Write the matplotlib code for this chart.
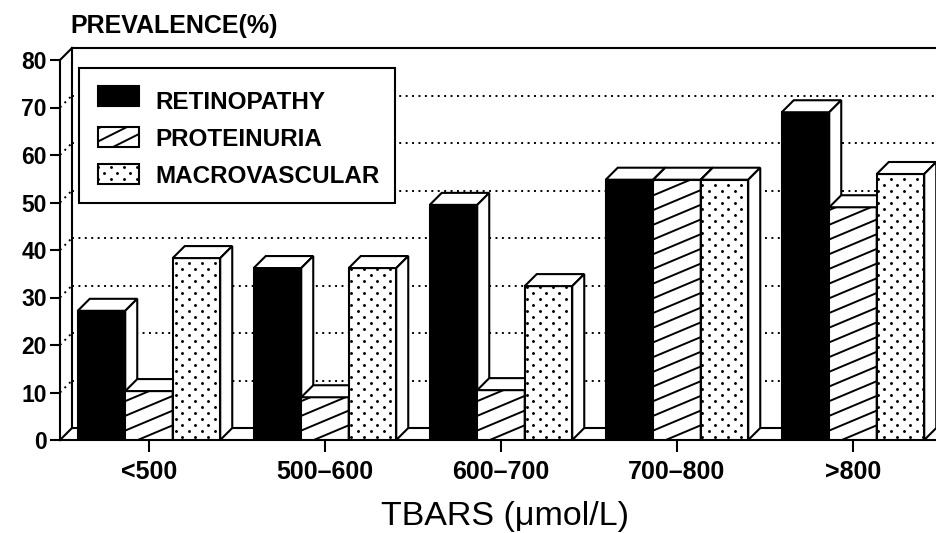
import numpy as np
import matplotlib
matplotlib.use("Agg")
import matplotlib.pyplot as plt
from matplotlib.patches import Rectangle, Polygon
from matplotlib.lines import Line2D
from matplotlib.transforms import IdentityTransform, Affine2D

# ---------------- data ----------------
categories = ["<500", "500–600", "600–700", "700–800", ">800"]
series_names = ["RETINOPATHY", "PROTEINURIA", "MACROVASCULAR"]
retinopathy = [27.2, 36.2, 49.5, 54.8, 69.0]
proteinuria = [10.3, 9.0, 10.5, 54.8, 49.0]
macrovascular = [38.3, 36.2, 32.4, 54.8, 56.0]
y_ticks = [0, 10, 20, 30, 40, 50, 60, 70, 80]
grid_values = [10, 20, 30, 40, 50, 60, 70]
x_label = "TBARS (μmol/L)"
y_label = "PREVALENCE(%)"

# ---------------- layout ----------------
W, H = 937, 533
plt.rcParams["font.family"] = ["Liberation Sans", "DejaVu Sans"]
fig = plt.figure(figsize=(W / 100, H / 100), dpi=100)
AX_L, AX_R, AX_T, AX_B = 60, 937, 60, 440
ax = fig.add_axes([AX_L / W, 1 - AX_B / H, (AX_R - AX_L) / W, (AX_B - AX_T) / H])

PX_X = 176.0          # pixels per category
X0_PX = 149.0         # pixel of first category centre
xmin = (AX_L - X0_PX) / PX_X
xmax = (AX_R - X0_PX) / PX_X
YMAX = 80
PX_Y = (AX_B - AX_T) / YMAX
DX = 12 / PX_X        # depth offset (data units)
DY = 12 / PX_Y
bar_w = 47.5 / PX_X
LW = 1.5

ax.set_xlim(xmin, xmax)
ax.set_ylim(0, YMAX)
ax.set_autoscale_on(False)

# ---------------- walls / floor ----------------
wall = dict(color="k", lw=LW, clip_on=False, solid_capstyle="projecting", zorder=1)
ax.plot([xmin + DX, xmin + DX], [DY, YMAX + DY], **wall)
ax.plot([xmin + DX, xmax + DX], [YMAX + DY, YMAX + DY], **wall)
ax.plot([xmin, xmin + DX], [YMAX, YMAX + DY], **wall)
ax.plot([xmin, xmin + DX], [0, DY], **wall)
ax.plot([xmin + DX, xmax + DX], [DY, DY], **wall)
dot = dict(color="k", lw=1.4, ls=(0, (1, 2.3)), clip_on=False, zorder=1,
           dash_capstyle="butt")
for v in grid_values:
    ax.plot([xmin + DX, xmax + DX], [v + DY, v + DY], **dot)
    ax.plot([xmin, xmin + DX], [v, v + DY], **dot)


# ---------------- patterns ----------------
def add_hatch(container, rect, z, slope=0.42, spacing=14.7, lw=1.4):
    bb = rect.get_window_extent()
    x0, y0, x1, y1 = bb.x0, bb.y0, bb.x1, bb.y1
    offs = np.arange(-slope * (x1 - x0) - spacing, (y1 - y0) + spacing, spacing)
    for c in offs:
        ln = Line2D([x0, x1], [y0 + c, y0 + c + slope * (x1 - x0)],
                    transform=IdentityTransform(), color="k", lw=lw, zorder=z)
        container.add_artist(ln)
        ln.set_clip_path(rect)


def add_dots(container, rect, z, px=13.0, py=6.0, ms=2.1):
    bb = rect.get_window_extent()
    xs, ys = [], []
    for r in np.arange(np.floor(bb.y0 / py), np.ceil(bb.y1 / py) + 1):
        off = (r % 2) * px / 2
        cols = np.arange(np.floor((bb.x0 - off) / px), np.ceil((bb.x1 - off) / px) + 1)
        xs += list(cols * px + off)
        ys += [r * py] * len(cols)
    ln = Line2D(xs, ys, ls="none", marker="o", ms=ms, mfc="k", mec="none",
                transform=IdentityTransform(), zorder=z)
    container.add_artist(ln)
    ln.set_clip_path(rect)


# ---------------- bars ----------------
values = [retinopathy, proteinuria, macrovascular]
faces = ["black", "white", "white"]
patterns = [None, "hatch", "dots"]
x = np.arange(len(categories))
containers = []
for j in range(3):
    lefts = x - 1.5 * bar_w + j * bar_w
    bc = ax.bar(lefts, values[j], width=bar_w, align="edge", facecolor=faces[j],
                edgecolor="k", linewidth=LW)
    containers.append(bc)

for i in range(len(categories)):
    for j in range(3):
        z = 3 + (i * 3 + j) * 0.1
        rect = containers[j].patches[i]
        rect.set_zorder(z)
        l = rect.get_x()
        h = rect.get_height()
        top = Polygon([[l, h], [l + bar_w, h], [l + bar_w + DX, h + DY], [l + DX, h + DY]],
                      closed=True, facecolor="white", edgecolor="k", lw=LW,
                      joinstyle="miter", zorder=z + 0.01)
        side = Polygon([[l + bar_w, 0], [l + bar_w + DX, DY], [l + bar_w + DX, h + DY],
                        [l + bar_w, h]], closed=True, facecolor="white", edgecolor="k",
                       lw=LW, joinstyle="miter", zorder=z + 0.01)
        ax.add_patch(top)
        ax.add_patch(side)
        if patterns[j] == "hatch":
            add_hatch(ax, rect, z + 0.02)
        elif patterns[j] == "dots":
            add_dots(ax, rect, z + 0.02)

# ---------------- axes cosmetics ----------------
ax.set_xticks(x)
ax.set_xticklabels(categories, fontsize=18, fontweight="bold")
ax.set_yticks(y_ticks)
ax.set_yticklabels([str(v) for v in y_ticks], fontsize=16.5, fontweight="bold")
ax.tick_params(axis="x", length=8.6, width=LW, pad=6, direction="out")
ax.tick_params(axis="y", length=7.5, width=LW, pad=2, direction="out")
for s in ["top", "right"]:
    ax.spines[s].set_visible(False)
ax.spines["left"].set_linewidth(LW)
ax.spines["bottom"].set_linewidth(LW)
ax.patch.set_visible(False)

ax.set_xlabel(x_label, fontsize=24.5)
ax.xaxis.set_label_coords((505 - AX_L) / (AX_R - AX_L), (AX_B - 525) / (AX_B - AX_T))
ax.xaxis.label.set_va("baseline")
ax.set_ylabel(y_label, fontsize=18, fontweight="bold", rotation=0)
ax.yaxis.set_label_coords((70 - AX_L) / (AX_R - AX_L), (AX_B - 33) / (AX_B - AX_T))
ax.yaxis.label.set_ha("left")
ax.yaxis.label.set_va("baseline")

# ---------------- legend (pixel layout, top-left origin) ----------------
TL = Affine2D().scale(1, -1).translate(0, H)
box = Rectangle((79, 68), 316, 135, transform=TL, facecolor="white", edgecolor="k",
                lw=LW, zorder=10)
fig.add_artist(box)
sw_tops = [86, 127, 164]
baselines = [109, 146, 183]
for j in range(3):
    sw = Rectangle((98, sw_tops[j]), 41, 20, transform=TL, facecolor=faces[j],
                   edgecolor="k", lw=LW, zorder=11)
    fig.add_artist(sw)
    if patterns[j] == "hatch":
        add_hatch(fig, sw, 12, slope=0.5, spacing=13)
    elif patterns[j] == "dots":
        add_dots(fig, sw, 12)
    fig.text(155, baselines[j], series_names[j], transform=TL, fontsize=17.5,
             fontweight="bold", ha="left", va="baseline", zorder=13)

fig.savefig("out.png", dpi=100)
